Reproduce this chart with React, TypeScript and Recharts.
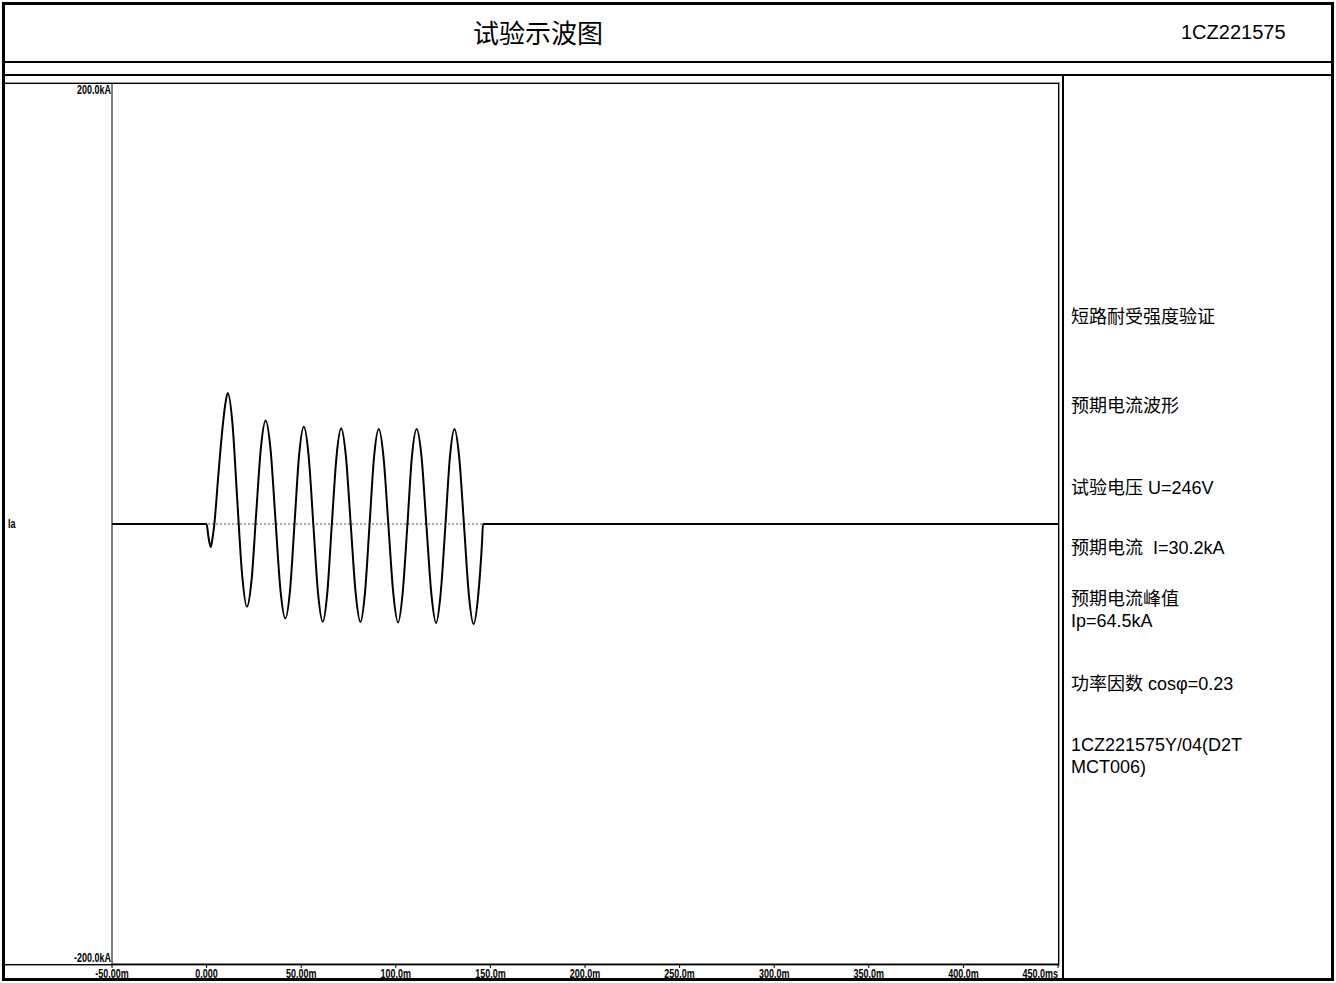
import React from 'react';
import { LineChart, Line, XAxis, YAxis, ReferenceLine } from 'recharts';

// waveform samples (time in ms, current in kA)
const TIME_MS = [
  -50, -25, 0, 1, 2.2, 3.2, 4.1, 6, 8, 9.8, 11.2, 13.7, 16.2, 18.8, 21.3, 23.8, 26.2, 28.7, 31.2,
  33.8, 36.4, 39, 41.6, 44.1, 46.5, 48.9, 51.4, 53.9, 56.4, 58.9, 61.4, 63.8, 66.2, 68.7, 71.1,
  73.6, 76.2, 78.8, 81.3, 83.7, 86.1, 88.5, 91, 93.5, 96.1, 98.7, 101.2, 103.6, 106.1, 108.5, 111,
  113.6, 116.2, 118.8, 121.3, 123.7, 126.2, 128.6, 131, 133.5, 136.1, 138.6, 141.1, 143.6, 145.6,
  146.1, 200, 300, 450,
];
const CURRENT_KA = [
  0, 0, 0, -6, -10.5, -6, 0, 20, 40, 54, 59.5, 45.3, 11, -23.3, -37.6, -25.2, 4.7, 34.6, 47,
  33.8, 2, -29.7, -42.9, -30.1, 0.6, 31.4, 44.2, 31.2, 0, -31.4, -44.4, -31.2, 0, 31, 43.5,
  31, -0.5, -31.5, -44.5, -31.3, -0.6, 30.4, 43.2, 30.5, -0.8, -31.7, -44.8, -31.6, -0.8, 30.4, 43.2,
  30.5, -0.9, -31.8, -45, -31.7, -0.9, 30.4, 43.2, 30.4, -1.1, -32, -45.5, -32, -8,
  0, 0, 0, 0,
];

const X_TICKS = [-50, 0, 50, 100, 150, 200, 250, 300, 350, 400, 450];
const X_TICK_LABELS = ['-50.00m', '0.000', '50.00m', '100.0m', '150.0m', '200.0m', '250.0m', '300.0m', '350.0m', '400.0m', '450.0ms'];
const Y_TICKS = [-200, 0, 200];
const Y_TICK_LABELS = ['-200.0kA', 'Ia', '200.0kA'];

const TITLE = '试验示波图';
const REPORT_NO = '1CZ221575';
const INFO_TEST = '短路耐受强度验证';
const INFO_WAVE = '预期电流波形';
const INFO_VOLTAGE = '试验电压 U=246V';
const INFO_CURRENT = '预期电流  I=30.2kA';
const INFO_PEAK = ['预期电流峰值', 'Ip=64.5kA'];
const INFO_PF = '功率因数 cosφ=0.23';
const INFO_ID = ['1CZ221575Y/04(D2T', 'MCT006)'];

const data = TIME_MS.map((t, i) => ({ t, i: CURRENT_KA[i] }));

const TICK_FONT = "'Liberation Sans', Arial, sans-serif";
const TEXT_FONT = "'Liberation Sans', Arial, 'Noto Sans CJK SC', sans-serif";
const NARROW = 0.75;

// condensed bold label, like the scope software's axis font
const NarrowText = ({ x, y, anchor, children }: any) => (
  <text
    transform={`translate(${x},${y}) scale(${NARROW},1)`}
    x={0}
    y={0}
    textAnchor={anchor}
    fontFamily={TICK_FONT}
    fontWeight="bold"
    fontSize={12}
    fill="#000"
  >
    {children}
  </text>
);

const XTick = ({ x, y, payload }: any) => {
  const idx = X_TICKS.indexOf(payload.value);
  const last = idx === X_TICKS.length - 1;
  return (
    <g>
      <line x1={x} x2={x} y1={y} y2={y + 4} stroke="#000" strokeWidth={1} />
      <NarrowText x={x} y={y + 14} anchor={last ? 'end' : 'middle'}>
        {X_TICK_LABELS[idx]}
      </NarrowText>
    </g>
  );
};

const YTick = ({ x, y, payload }: any) => {
  const label = Y_TICK_LABELS[Y_TICKS.indexOf(payload.value)];
  if (payload.value === 0) {
    return (
      <NarrowText x={8} y={y + 4} anchor="start">
        {label}
      </NarrowText>
    );
  }
  const dy = payload.value > 0 ? 10 : -2;
  return (
    <NarrowText x={x - 1} y={y + dy} anchor="end">
      {label}
    </NarrowText>
  );
};

const abs = (left: number, top: number, width: number, height: number): React.CSSProperties => ({
  position: 'absolute',
  left,
  top,
  width,
  height,
  boxSizing: 'border-box',
});

const infoLine = (top: number, text: string) => (
  <div
    style={{
      position: 'absolute',
      left: 1071,
      top,
      lineHeight: '22px',
      fontSize: 18,
      whiteSpace: 'pre',
      color: '#000',
    }}
  >
    {text}
  </div>
);

export default function App() {
  return (
    <div
      style={{
        position: 'absolute',
        left: 0,
        top: 0,
        width: 1336,
        height: 983,
        background: '#fff',
        fontFamily: TEXT_FONT,
        overflow: 'hidden',
      }}
    >
      {/* header */}
      <div
        style={{
          ...abs(6, 2, 1064, 58),
          display: 'flex',
          alignItems: 'center',
          justifyContent: 'center',
          fontSize: 26,
          fontFamily: "'Noto Sans CJK SC', sans-serif",
        }}
      >
        {TITLE}
      </div>
      <div style={{ ...abs(1181, 3, 150, 58), display: 'flex', alignItems: 'center', fontSize: 20 }}>
        {REPORT_NO}
      </div>

      {/* rules */}
      <div style={{ ...abs(2, 61, 1332, 2), background: '#000' }} />
      <div style={{ ...abs(2, 74, 1332, 2), background: '#000' }} />
      <div style={{ ...abs(1062, 74, 2, 907), background: '#000' }} />

      {/* plot frame */}
      <div style={{ ...abs(5, 82, 1055, 884), borderTop: '1px solid #9a9a9a', borderRight: '1px solid #9a9a9a', borderBottom: '1px solid #9a9a9a' }}>
        <div style={{ width: '100%', height: '100%', boxSizing: 'border-box', borderTop: '1px solid #000', borderRight: '1px solid #000', borderBottom: '1px solid #000' }} />
      </div>

      <div style={{ position: 'absolute', left: 0, top: 0 }}>
        <LineChart width={1060} height={983} data={data} margin={{ top: 84, right: 2, left: 8, bottom: 0 }}>
          <XAxis
            dataKey="t"
            type="number"
            domain={[-50, 450]}
            ticks={X_TICKS}
            height={19}
            axisLine={{ stroke: '#000' }}
            tickLine={false}
            tickSize={0}
            tickMargin={0}
            tick={<XTick />}
            interval={0}
            allowDataOverflow
          />
          <YAxis
            type="number"
            domain={[-200, 200]}
            ticks={Y_TICKS}
            width={104}
            axisLine={{ stroke: '#000' }}
            tickLine={false}
            tickSize={0}
            tickMargin={0}
            tick={<YTick />}
            interval={0}
            allowDataOverflow
          />
          <ReferenceLine y={0} stroke="#555" strokeDasharray="2 2" strokeWidth={1} />
          <Line
            type="monotone"
            dataKey="i"
            stroke="#000"
            strokeWidth={2}
            dot={false}
            isAnimationActive={false}
          />
        </LineChart>
      </div>

      {/* info panel */}
      {infoLine(306, INFO_TEST)}
      {infoLine(395, INFO_WAVE)}
      {infoLine(477, INFO_VOLTAGE)}
      {infoLine(537, INFO_CURRENT)}
      {infoLine(588, INFO_PEAK[0])}
      {infoLine(610, INFO_PEAK[1])}
      {infoLine(673, INFO_PF)}
      {infoLine(734, INFO_ID[0])}
      {infoLine(756, INFO_ID[1])}

      {/* outer border */}
      <div style={{ ...abs(2, 2, 1332, 979), border: '3px solid #000' }} />
    </div>
  );
}
